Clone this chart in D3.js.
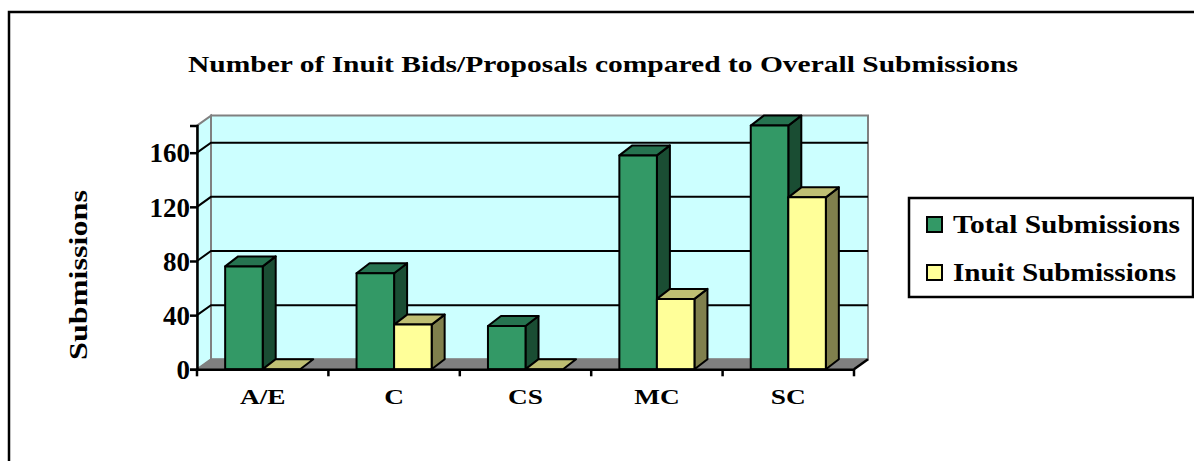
<!DOCTYPE html>
<html>
<head>
  <meta charset="utf-8">
  <title>Number of Inuit Bids/Proposals compared to Overall Submissions</title>
  <script src="https://cdn.jsdelivr.net/npm/d3@7/dist/d3.min.js"></script>
  <style>
    body { margin: 0; background: #fff; }
    svg text { font-family: "Liberation Serif", "DejaVu Serif", serif; font-weight: bold; fill: #000; }
  </style>
</head>
<body>
  <div class="chart"></div>
  <script>
    // data
    var categories = ["A/E", "C", "CS", "MC", "SC"];
    var seriesNames = ["Total Submissions", "Inuit Submissions"];
    var totalSubmissions = [76, 71, 32, 158, 180];
    var inuitSubmissions = [0, 33, 0, 52, 127];
    var yTicks = [0, 40, 80, 120, 160];

    var width = 1194, height = 461;

    var colors = {
      "Total Submissions": { front: "#339966", top: "#267350", side: "#1a4d33" },
      "Inuit Submissions": { front: "#ffff99", top: "#bfbf73", side: "#80804d" }
    };

    // depth of the plot box and of the bars
    var depth = { dx: 14, dy: -10 },
      barDepth = { dx: 13, dy: -10 };

    var svg = d3.select(".chart").append("svg")
      .attr("width", width)
      .attr("height", height);

    // stretch a text to the width it has in the picture (Garamond is wider than what we have)
    function fit(sel, w) {
      sel.attr("textLength", w).attr("lengthAdjust", "spacingAndGlyphs");
    }

    // outer frame
    svg.append("rect")
      .attr("x", 9).attr("y", 12)
      .attr("width", 1200).attr("height", 470)
      .attr("fill", "none").attr("stroke", "#000").attr("stroke-width", 2.5);

    var x = d3.scaleBand().domain(categories).range([197, 854]);
    var xInner = d3.scaleBand().domain(seriesNames).range([0, x.bandwidth()]).paddingOuter(0.75);
    var y = d3.scaleLinear().domain([0, 180]).range([369.3, 125.6]);

    var x0 = x.range()[0], x1 = x.range()[1];
    var pt = function (px, py) { return px + "," + py; };

    // back wall
    svg.append("polygon")
      .attr("points", [pt(x0 + depth.dx, y(180) + depth.dy), pt(x1 + depth.dx, y(180) + depth.dy),
        pt(x1 + depth.dx, y(0) + depth.dy), pt(x0 + depth.dx, y(0) + depth.dy)].join(" "))
      .attr("fill", "#ccffff").attr("stroke", "#808080").attr("stroke-width", 2);

    // side wall
    svg.append("polygon")
      .attr("points", [pt(x0, y(180)), pt(x0 + depth.dx, y(180) + depth.dy),
        pt(x0 + depth.dx, y(0) + depth.dy), pt(x0, y(0))].join(" "))
      .attr("fill", "#ccffff").attr("stroke", "#808080").attr("stroke-width", 2);

    // floor
    svg.append("polygon")
      .attr("points", [pt(x0, y(0)), pt(x1, y(0)), pt(x1 + depth.dx, y(0) + depth.dy), pt(x0 + depth.dx, y(0) + depth.dy)].join(" "))
      .attr("fill", "#808080").attr("stroke", "#808080").attr("stroke-width", 1);

    // gridlines
    var grid = svg.append("g").attr("class", "grid");
    yTicks.filter(function (d) { return d > 0; }).forEach(function (d) {
      grid.append("polyline")
        .attr("points", [pt(x0, y(d)), pt(x0 + depth.dx, y(d) + depth.dy), pt(x1 + depth.dx, y(d) + depth.dy)].join(" "))
        .attr("fill", "none").attr("stroke", "#000").attr("stroke-width", 2);
    });

    // bars, drawn left to right so each front face covers the previous side face
    var bars = [];
    categories.forEach(function (c, i) {
      bars.push({ cat: c, series: seriesNames[0], value: totalSubmissions[i] });
      bars.push({ cat: c, series: seriesNames[1], value: inuitSubmissions[i] });
    });

    var barG = svg.append("g").attr("class", "bars");
    bars.forEach(function (b) {
      var bx = x(b.cat) + xInner(b.series), bw = xInner.bandwidth();
      var yt = y(b.value), yb = y(0);
      var col = colors[b.series];
      var g = barG.append("g")
        .attr("stroke", "#000").attr("stroke-width", 2).attr("stroke-linejoin", "round");
      if (b.value > 0) {
        g.append("polygon")
          .attr("points", [pt(bx + bw, yt), pt(bx + bw + barDepth.dx, yt + barDepth.dy),
            pt(bx + bw + barDepth.dx, yb + barDepth.dy), pt(bx + bw, yb)].join(" "))
          .attr("fill", col.side);
      }
      g.append("polygon")
        .attr("points", [pt(bx, yt), pt(bx + barDepth.dx, yt + barDepth.dy),
          pt(bx + bw + barDepth.dx, yt + barDepth.dy), pt(bx + bw, yt)].join(" "))
        .attr("fill", col.top);
      if (b.value > 0) {
        g.append("rect")
          .attr("x", bx).attr("y", yt).attr("width", bw).attr("height", yb - yt)
          .attr("fill", col.front);
      }
    });

    // axes
    var yAxis = d3.axisLeft(y).tickValues(yTicks).tickSize(7).tickPadding(0);
    var ya = svg.append("g").attr("transform", "translate(" + x0 + ",0)").call(yAxis);
    ya.select(".domain").attr("stroke", "#000").attr("stroke-width", 2.5);
    ya.selectAll(".tick line").attr("stroke", "#000").attr("stroke-width", 2.5);
    ya.selectAll(".tick text").attr("font-size", 27).attr("dy", "0.34em")
      .style("font-family", "'Liberation Serif', serif").style("font-weight", "bold");

    var xAxis = d3.axisBottom(x).tickSize(0);
    var xa = svg.append("g").attr("transform", "translate(0," + y(0) + ")").call(xAxis);
    xa.select(".domain").attr("stroke", "#000").attr("stroke-width", 2.5);
    xa.selectAll(".tick text").attr("font-size", 21).attr("y", 35).attr("dy", 0)
      .style("font-family", "'Liberation Serif', serif").style("font-weight", "bold")
      .each(function () {
        var t = d3.select(this);
        fit(t, this.getComputedTextLength() * 1.3);
      });

    // category dividers below the floor edge
    var bounds = categories.map(function (c) { return x(c); }).concat([x1]);
    svg.append("g").selectAll("line").data(bounds).enter().append("line")
      .attr("x1", function (d) { return d; }).attr("x2", function (d) { return d; })
      .attr("y1", y(0)).attr("y2", y(0) + 7)
      .attr("stroke", "#000").attr("stroke-width", 2.5);
    svg.append("line")
      .attr("x1", x1).attr("y1", y(0)).attr("x2", x1 + depth.dx).attr("y2", y(0) + depth.dy)
      .attr("stroke", "#000").attr("stroke-width", 2.5);

    // title
    var title = svg.append("text")
      .attr("x", 603).attr("y", 72)
      .attr("text-anchor", "middle").attr("font-size", 24)
      .text("Number of Inuit Bids/Proposals compared to Overall Submissions");
    fit(title, 830);

    // y axis title
    var yTitle = svg.append("text")
      .attr("transform", "translate(87,275) rotate(-90)")
      .attr("text-anchor", "middle").attr("font-size", 25)
      .text("Submissions");
    fit(yTitle, 170);

    // legend
    var legendWidths = [227, 223];
    var legend = svg.append("g").attr("transform", "translate(909,198)");
    legend.append("rect")
      .attr("width", 284).attr("height", 99)
      .attr("fill", "#fff").attr("stroke", "#000").attr("stroke-width", 2.5);
    seriesNames.forEach(function (s, i) {
      var row = legend.append("g").attr("transform", "translate(18," + (19 + i * 48) + ")");
      row.append("rect")
        .attr("width", 15).attr("height", 15)
        .attr("fill", colors[s].front).attr("stroke", "#000").attr("stroke-width", 2);
      var t = row.append("text")
        .attr("x", 26).attr("y", 16)
        .attr("font-size", 26)
        .text(s);
      fit(t, legendWidths[i]);
    });
  </script>
</body>
</html>
